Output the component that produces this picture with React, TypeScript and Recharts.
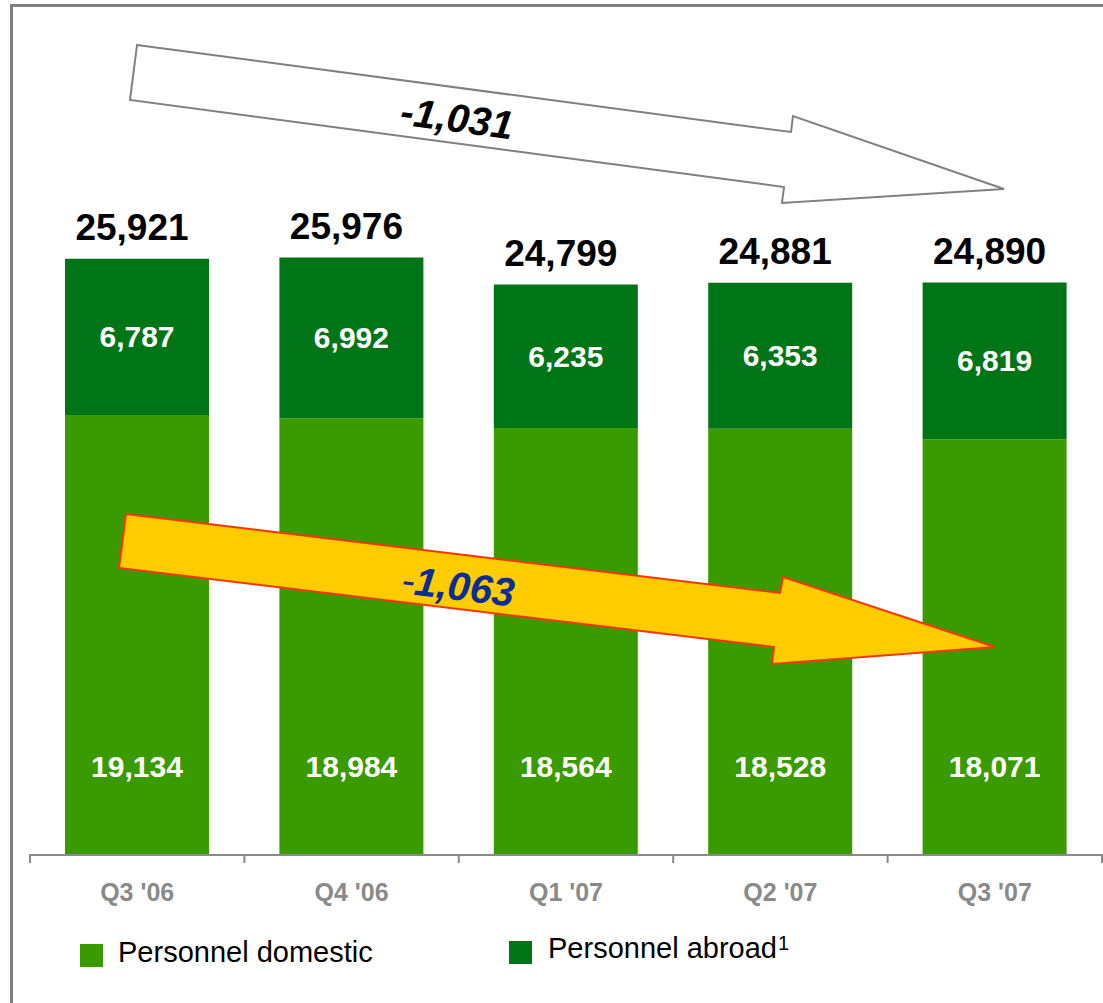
import React from 'react';
import { BarChart, Bar, XAxis, YAxis, LabelList } from 'recharts';

const categories = ["Q3 '06", "Q4 '06", "Q1 '07", "Q2 '07", "Q3 '07"];
const domestic = [19134, 18984, 18564, 18528, 18071];
const abroad = [6787, 6992, 6235, 6353, 6819];
const totals = [25921, 25976, 24799, 24881, 24890];
const changeTotal = '-1,031';
const changeDomestic = '1,063';

const data = categories.map((q, i) => ({
  quarter: q,
  domestic: domestic[i],
  abroad: abroad[i],
  total: totals[i],
}));

const W = 1103;
const H = 1003;
const PLOT_LEFT = 30;
const PLOT_RIGHT = 1102;
const BAND = (PLOT_RIGHT - PLOT_LEFT) / categories.length;
const FONT = '"Liberation Sans", Arial, sans-serif';
const DOMESTIC_GREEN = '#399b00';
const ABROAD_GREEN = '#007518';
const AXIS_GREY = '#8a8a8a';

const fmt = (v: number) => v.toLocaleString('en-US');

const CategoryTick = (props: any) => {
  const { x, y, payload, index } = props;
  const half = BAND / 2;
  return (
    <g>
      <line x1={x - half} x2={x - half} y1={y - 1} y2={y + 8} stroke={AXIS_GREY} strokeWidth={2} />
      {index === categories.length - 1 && (
        <line x1={x + half} x2={x + half} y1={y - 1} y2={y + 8} stroke={AXIS_GREY} strokeWidth={2} />
      )}
      <text x={x} y={y + 46} textAnchor="middle" fill={AXIS_GREY} fontSize={25} fontWeight="bold" fontFamily={FONT}>
        {payload.value}
      </text>
    </g>
  );
};

const DomesticLabel = (props: any) => {
  const { x, y, width, height, value } = props;
  return (
    <text x={x + width / 2} y={y + height - 89} textAnchor="middle" dominantBaseline="central"
      fill="#fff" fontSize={30} fontWeight="bold" fontFamily={FONT}>
      {fmt(value)}
    </text>
  );
};

const AbroadLabel = (props: any) => {
  const { x, y, width, height, value } = props;
  return (
    <text x={x + width / 2} y={y + height / 2} textAnchor="middle" dominantBaseline="central"
      fill="#fff" fontSize={30} fontWeight="bold" fontFamily={FONT}>
      {fmt(value)}
    </text>
  );
};

const TotalLabel = (props: any) => {
  const { x, y, width, value } = props;
  return (
    <text x={x + width / 2 - 5} y={y - 19} textAnchor="middle" fill="#000" fontSize={37} fontWeight="bold" fontFamily={FONT}>
      {fmt(value)}
    </text>
  );
};

export default function App() {
  return (
    <div style={{ position: 'absolute', left: 0, top: 0, width: W, height: H, background: '#fff', fontFamily: FONT }}>
      {/* frame, only left and top edges are visible */}
      <div style={{ position: 'absolute', left: 10, top: 4, width: W - 10, height: H - 4, borderLeft: '3px solid #808080', borderTop: '3px solid #808080', boxSizing: 'border-box' }} />

      <div style={{ position: 'absolute', left: 0, top: 0 }}>
        <BarChart width={W} height={H} data={data} margin={{ top: 165, right: W - PLOT_RIGHT, bottom: 88, left: PLOT_LEFT }}>
          <XAxis dataKey="quarter" height={60} interval={0} tickSize={0} tickMargin={0} tickLine={false}
            axisLine={{ stroke: AXIS_GREY, strokeWidth: 2 }} tick={<CategoryTick />} />
          <YAxis hide domain={[0, 30000]} />
          <Bar dataKey="domestic" stackId="p" fill={DOMESTIC_GREEN} barSize={144} isAnimationActive={false}>
            <LabelList dataKey="domestic" content={<DomesticLabel />} />
          </Bar>
          <Bar dataKey="abroad" stackId="p" fill={ABROAD_GREEN} barSize={144} isAnimationActive={false}>
            <LabelList dataKey="abroad" content={<AbroadLabel />} />
            <LabelList dataKey="total" content={<TotalLabel />} />
          </Bar>
        </BarChart>
      </div>

      {/* trend arrows */}
      <svg width={W} height={H} style={{ position: 'absolute', left: 0, top: 0, pointerEvents: 'none' }}>
        <polygon points="137,45 791,132 793,116 1004,189 782,203 784,187 130,100"
          fill="#fff" stroke="#808080" strokeWidth={2} strokeLinejoin="miter" />
        <text x={457} y={118} transform="rotate(7.6 457 118)" textAnchor="middle" dominantBaseline="central"
          fill="#000" fontSize={40} fontWeight="bold" fontStyle="italic" fontFamily={FONT}>
          {changeTotal}
        </text>
        <polygon points="126,514 780,593 783,577 995,647 772,664 774,647 119,568"
          fill="#ffcc00" stroke="#ff3300" strokeWidth={2} strokeLinejoin="miter" />
        <text x={458} y={586} transform="rotate(6.9 458 586)" textAnchor="middle" dominantBaseline="central"
          fill="#0a2d96" fontSize={40} fontStyle="italic" fontFamily={FONT}>
          <tspan fontWeight="normal">-</tspan>
          <tspan fontWeight="bold">{changeDomestic}</tspan>
        </text>
      </svg>

      {/* legend */}
      <div style={{ position: 'absolute', left: 80, top: 944, width: 23, height: 23, background: DOMESTIC_GREEN }} />
      <div style={{ position: 'absolute', left: 118, top: 934, fontSize: 29, lineHeight: '36px', color: '#000', whiteSpace: 'nowrap' }}>
        Personnel domestic
      </div>
      <div style={{ position: 'absolute', left: 509, top: 941, width: 23, height: 23, background: ABROAD_GREEN }} />
      <div style={{ position: 'absolute', left: 548, top: 930, fontSize: 29, lineHeight: '36px', color: '#000', whiteSpace: 'nowrap' }}>
        Personnel abroad<sup style={{ fontSize: 20, verticalAlign: 'top', position: 'relative', top: -5, marginLeft: 1 }}>1</sup>
      </div>
    </div>
  );
}
